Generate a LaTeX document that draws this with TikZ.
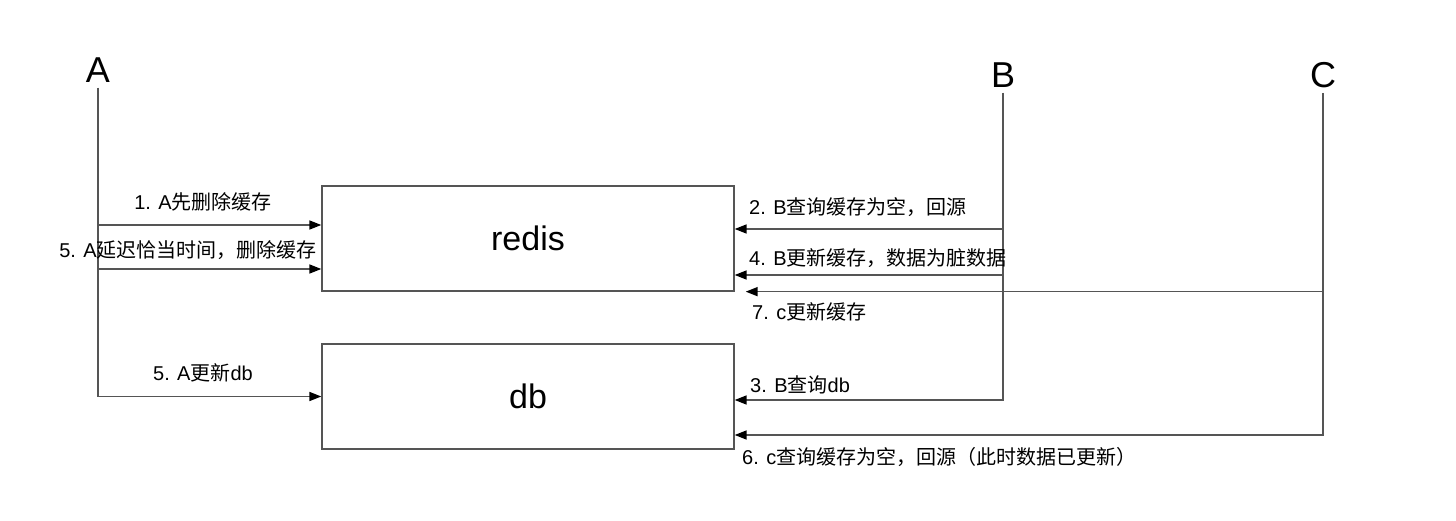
\documentclass[tikz,border=0pt]{standalone}
\usepackage{fontspec}
\setmainfont{Liberation Sans}
\newfontfamily\cjk{Noto Sans CJK SC}
\newcommand{\zh}[1]{{\cjk #1}}
\usetikzlibrary{positioning, arrows.meta}
\definecolor{linegray}{RGB}{85,85,85}

\begin{document}
\begin{tikzpicture}[
    x=1pt, y=-1pt,
    actor/.style={font=\fontsize{36}{40}\selectfont, inner sep=5pt},
    store/.style={draw=linegray, line width=1.3pt, minimum width=412pt, minimum height=105pt, font=\fontsize{34}{38}\selectfont},
    lbl/.style={font=\fontsize{20}{23}\selectfont, inner sep=0pt},
    life/.style={draw=linegray, line width=1.6pt},
    arrow/.style={life, -{Triangle[length=12pt, width=9pt, color=black]}}
]
\useasboundingbox (0,0) rectangle (1456,520);

% Nodes
\node[actor] (A) at (98,70) {A};
\node[actor] (B) at (1003,75) {B};
\node[actor] (C) at (1323,75) {C};

\node[store] (redis) at (528,238.5) {redis};
\node[store] (db) at (528,396.5) {db};

\coordinate (c7) at ([xshift=11pt]redis.south east);

% Arrows
\draw[arrow] (A) |- (db.west);
\draw[arrow] (A |- 0,225) -- (redis.west |- 0,225);
\draw[arrow] (A |- 0,269) -- (redis.west |- 0,269);

\draw[arrow] (B) |- (db.east |- 0,400);
\draw[arrow] (B |- 0,229) -- (redis.east |- 0,229);
\draw[arrow] (B |- 0,275) -- (redis.east |- 0,275);

\draw[arrow] (C) |- (db.east |- 0,435);
\draw[arrow] (C |- c7) -- (c7);

% Labels
\node[lbl] (l1) at (203,202) {1. A\zh{先删除缓存}};
\node[lbl] (l5a) at (188,250) {5. A\zh{延迟恰当时间，删除缓存}};
\node[lbl] (l5b) at (203,373) {5. A\zh{更新}db};

\node[lbl, anchor=west] (l2) at (749,207) {2. B\zh{查询缓存为空，回源}};
\node[lbl, anchor=west] (l4) at (749,258) {4. B\zh{更新缓存，数据为脏数据}};
\node[lbl, anchor=west] (l7) at (752,312) {7. c\zh{更新缓存}};
\node[lbl, anchor=west] (l3) at (750,385) {3. B\zh{查询}db};
\node[lbl, anchor=west] (l6) at (742,457) {6. c\zh{查询缓存为空，回源（此时数据已更新）}};

\end{tikzpicture}
\end{document}
